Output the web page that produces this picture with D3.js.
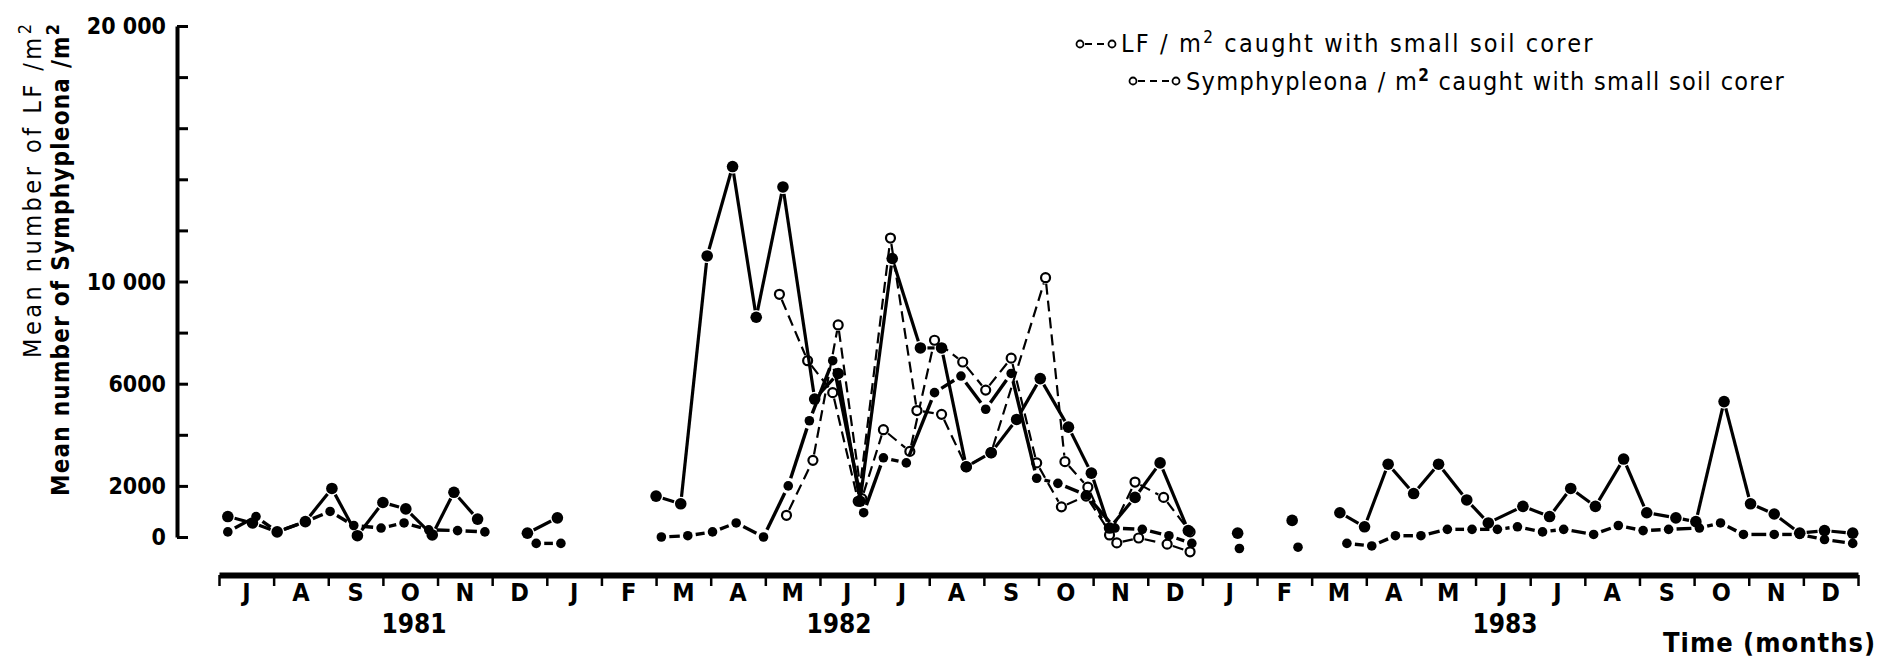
<!DOCTYPE html>
<html>
<head>
<meta charset="utf-8">
<script src="https://cdn.jsdelivr.net/npm/d3@7"></script>
<style>
  body { margin: 0; background: #fff; }
  svg { display: block; }
  text { fill: #000; }
</style>
</head>
<body>
<svg id="chart" width="1880" height="662"></svg>
<script>
// ---- Time axis: months from July 1981 to December 1983 ----
const monthLetters = ["J","A","S","O","N","D",
                      "J","F","M","A","M","J","J","A","S","O","N","D",
                      "J","F","M","A","M","J","J","A","S","O","N","D"];
const yearLabels = ["1981", "1982", "1983"];

// ---- Vertical axis ----
const yTickValues = [0, 2000, 4000, 6000, 8000, 10000, 12000, 14000, 16000, 18000, 20000];
const yLabelValues = [0, 2000, 6000, 10000, 20000];
const yLabelTexts = ["0", "2000", "6000", "10 000", "20 000"];

// ---- LF / m² (filled dots, solid line); null marks a break in the line ----
const lfDates = [
  "1981-07-06","1981-07-20","1981-08-03","1981-08-19","1981-09-03","1981-09-17","1981-10-01",
  "1981-10-14","1981-10-29","1981-11-10","1981-11-23", null,
  "1981-12-21","1982-01-07", null,
  "1982-03-01","1982-03-15","1982-03-30","1982-04-13","1982-04-26","1982-05-11","1982-05-29",
  "1982-06-11","1982-06-23","1982-07-11","1982-07-27","1982-08-08","1982-08-22","1982-09-05",
  "1982-09-19","1982-10-02","1982-10-18","1982-10-31","1982-11-10","1982-11-24","1982-12-08",
  "1982-12-24", null,
  "1983-01-21", null,
  "1983-02-19", null,
  "1983-03-17","1983-03-31","1983-04-13","1983-04-27","1983-05-11","1983-05-27","1983-06-08",
  "1983-06-27","1983-07-12","1983-07-24","1983-08-07","1983-08-23","1983-09-05","1983-09-21",
  "1983-10-02","1983-10-18","1983-11-02","1983-11-15","1983-11-29","1983-12-13","1983-12-29"
];
const lfValues = [
  800, 550, 200, 600, 1900, 50, 1350,
  1100, 80, 1750, 700, null,
  150, 750, null,
  1600, 1300, 11000, 14500, 8600, 13700, 5400,
  6400, 1400, 10900, 7400, 7400, 2750, 3300,
  4600, 6200, 4300, 2500, 350, 1550, 2900,
  250, null,
  150, null,
  650, null,
  950, 400, 2850, 1700, 2850, 1450, 550,
  1200, 800, 1900, 1200, 3050, 950, 750,
  600, 5300, 1300, 900, 150, 250, 150
];

// ---- Symphypleona / m² (filled dots, broken line) ----
const symDates = [
  "1981-07-06","1981-07-22","1981-08-03","1981-08-19","1981-09-02","1981-09-15","1981-09-30",
  "1981-10-13","1981-10-27","1981-11-12","1981-11-27", null,
  "1981-12-26","1982-01-09", null,
  "1982-03-04","1982-03-19","1982-04-02","1982-04-15","1982-04-30","1982-05-14","1982-05-26",
  "1982-06-08","1982-06-25","1982-07-06","1982-07-19","1982-08-04","1982-08-19","1982-09-02",
  "1982-09-16","1982-09-30","1982-10-12","1982-10-28","1982-11-13","1982-11-28","1982-12-13",
  "1982-12-26", null,
  "1983-01-22", null,
  "1983-02-22", null,
  "1983-03-21","1983-04-04","1983-04-17","1983-05-01","1983-05-16","1983-05-30","1983-06-13",
  "1983-06-24","1983-07-08","1983-07-20","1983-08-06","1983-08-20","1983-09-03","1983-09-17",
  "1983-10-04","1983-10-16","1983-10-29","1983-11-15","1983-11-29","1983-12-13","1983-12-29"
];
const symValues = [
  200, 800, 200, 600, 1000, 450, 350,
  550, 280, 250, 200, null,
  -250, -250, null,
  0, 50, 200, 550, 0, 2000, 4550,
  6900, 950, 3100, 2900, 5650, 6300, 5000,
  6400, 2300, 2100, 1650, 350, 300, 50,
  -250, null,
  -450, null,
  -400, null,
  -250, -350, 50, 50, 300, 300, 300,
  400, 200, 300, 100, 450, 250, 300,
  350, 550, 100, 100, 100, -100, -250
];

// ---- LF / m² caught with small soil corer (open circles, dashed) ----
const lfSmallDates = [
  "1982-05-09","1982-05-25","1982-06-08","1982-06-22","1982-07-10","1982-07-25","1982-08-08",
  "1982-08-22","1982-09-05","1982-10-05","1982-10-16","1982-10-29","1982-11-10","1982-11-24",
  "1982-12-10","1982-12-25"
];
const lfSmallValues = [
  9500, 6900, 5650, 1400, 11700, 4950, 4800,
  2750, 3300, 10150, 2950, 1950, 80, 2150,
  1550, 200
];

// ---- Symphypleona / m² caught with small soil corer (open circles, dashed) ----
const symSmallDates = [
  "1982-05-13","1982-05-28","1982-06-11","1982-06-24","1982-07-06","1982-07-21","1982-08-04",
  "1982-08-20","1982-09-02","1982-09-16","1982-09-30","1982-10-14","1982-10-28","1982-11-14",
  "1982-11-26","1982-12-12","1982-12-25"
];
const symSmallValues = [
  850, 3000, 8300, 1500, 4200, 3350, 7700,
  6850, 5750, 7000, 2900, 1180, 1600, -230,
  -40, -280, -580
];

// ------------------------------------------------------------------
const svg = d3.select("#chart");
const narrow = "'Liberation Sans Narrow', 'DejaVu Sans Condensed', sans-serif";
const condensed = "'DejaVu Sans Condensed', 'Liberation Sans Narrow', sans-serif";

// every month gets the same width on the drawn time axis
const x = d3.scaleLinear().domain([0, 30]).range([219, 1858]);
const y = d3.scaleLinear().domain([0, 20000]).range([537, 26]);

function monthPos(s) {
  const [yy, mm, dd] = s.split("-").map(Number);
  const days = new Date(yy, mm, 0).getDate();
  return (yy - 1981) * 12 + (mm - 1) - 6 + (dd - 1) / days;
}

// ---- vertical axis ----
const yAxis = d3.axisRight(y).tickValues(yTickValues).tickSize(11).tickSizeOuter(0).tickFormat("");
const yAxisG = svg.append("g").attr("transform", "translate(177,0)").call(yAxis);
yAxisG.select(".domain").attr("stroke", "#000").attr("stroke-width", 4);
yAxisG.selectAll(".tick line").attr("stroke", "#000").attr("stroke-width", 3);

svg.append("g").selectAll("text")
  .data(yLabelValues)
  .join("text")
  .attr("x", 166)
  .attr("y", d => y(d) + 8)
  .attr("text-anchor", "end")
  .attr("font-family", narrow)
  .attr("font-weight", "bold")
  .attr("font-size", 23)
  .text((d, i) => yLabelTexts[i]);

// axis titles, set vertically
function fitLength(sel, target) {
  const n = sel.text().length;
  const w = sel.node().getComputedTextLength();
  sel.attr("letter-spacing", (target - w) / Math.max(1, n - 1));
}
const t1 = svg.append("text")
  .attr("transform", "translate(41,358) rotate(-90)")
  .attr("font-family", condensed)
  .attr("font-size", 25);
t1.append("tspan").text("Mean number of LF /m");
t1.append("tspan").attr("dy", -10).attr("font-size", 18).text("2");
fitLength(t1, 334);

const t2 = svg.append("text")
  .attr("transform", "translate(69,496) rotate(-90)")
  .attr("font-family", condensed)
  .attr("font-weight", "bold")
  .attr("font-size", 24);
t2.append("tspan").text("Mean number of Symphypleona /m");
t2.append("tspan").attr("dy", -10).attr("font-size", 18).text("2");
fitLength(t2, 472);

// ---- time axis ----
const xAxis = d3.axisBottom(x).tickValues(d3.range(0, 31)).tickSize(11).tickSizeOuter(0).tickFormat("");
const xAxisG = svg.append("g").attr("transform", "translate(0,575)").call(xAxis);
xAxisG.select(".domain").attr("stroke", "#000").attr("stroke-width", 6);
xAxisG.selectAll(".tick line").attr("stroke", "#000").attr("stroke-width", 2.5);

svg.append("g").selectAll("text")
  .data(monthLetters)
  .join("text")
  .attr("x", (d, i) => x(i + 0.5))
  .attr("y", 601)
  .attr("text-anchor", "middle")
  .attr("font-family", narrow)
  .attr("font-weight", "bold")
  .attr("font-size", 25)
  .text(d => d);

const yearPos = [3.57, 11.35, 23.54];
svg.append("g").selectAll("text")
  .data(yearLabels)
  .join("text")
  .attr("x", (d, i) => x(yearPos[i]))
  .attr("y", 633)
  .attr("text-anchor", "middle")
  .attr("font-family", narrow)
  .attr("font-weight", "bold")
  .attr("font-size", 26)
  .text(d => d);

svg.append("text")
  .attr("x", 1876)
  .attr("y", 652)
  .attr("text-anchor", "end")
  .attr("font-family", narrow)
  .attr("font-weight", "bold")
  .attr("font-size", 27)
  .attr("letter-spacing", 1)
  .text("Time (months)");

// ---- series ----
function drawSeries(dates, values, st) {
  const pts = dates.map((d, i) => (d === null || values[i] === null) ? null
    : { px: x(monthPos(d)), py: y(values[i]) });
  const segs = [];
  for (let i = 0; i < pts.length - 1; i++) {
    const a = pts[i], b = pts[i + 1];
    if (!a || !b) continue;
    const dx = b.px - a.px, dy = b.py - a.py, len = Math.hypot(dx, dy);
    if (len <= 2 * st.gap + 2) continue;
    const ux = dx / len, uy = dy / len;
    segs.push({ x1: a.px + ux * st.gap, y1: a.py + uy * st.gap,
                x2: b.px - ux * st.gap, y2: b.py - uy * st.gap });
  }
  const g = svg.append("g");
  g.selectAll("line").data(segs).join("line")
    .attr("x1", d => d.x1).attr("y1", d => d.y1)
    .attr("x2", d => d.x2).attr("y2", d => d.y2)
    .attr("stroke", "#000")
    .attr("stroke-width", st.width)
    .attr("stroke-dasharray", st.dash || null)
    .attr("stroke-linecap", "butt");
  g.selectAll("circle").data(pts.filter(p => p)).join("circle")
    .attr("cx", d => d.px).attr("cy", d => d.py)
    .attr("r", st.r)
    .attr("fill", st.open ? "#fff" : "#000")
    .attr("stroke", "#000")
    .attr("stroke-width", st.open ? 2.2 : 0);
}

drawSeries(symSmallDates, symSmallValues, { r: 4.5, gap: 6, width: 2.2, dash: "11,6", open: true });
drawSeries(lfSmallDates, lfSmallValues, { r: 4.5, gap: 6, width: 2.2, dash: "11,6", open: true });
drawSeries(symDates, symValues, { r: 4.8, gap: 8, width: 3.4, open: false });
drawSeries(lfDates, lfValues, { r: 5.8, gap: 7, width: 3.2, open: false });

// ---- legend ----
function legendSymbol(x0, x1, yy) {
  const g = svg.append("g");
  g.append("line").attr("x1", x0 + 5).attr("x2", x1 - 5).attr("y1", yy).attr("y2", yy)
    .attr("stroke", "#000").attr("stroke-width", 2).attr("stroke-dasharray", "7,5");
  [x0, x1].forEach(cx => g.append("circle").attr("cx", cx).attr("cy", yy).attr("r", 3.5)
    .attr("fill", "#fff").attr("stroke", "#000").attr("stroke-width", 1.8));
}
legendSymbol(1080, 1112, 44);
legendSymbol(1133, 1176, 81);

const l1 = svg.append("text").attr("x", 1121).attr("y", 52)
  .attr("font-family", condensed).attr("font-size", 25);
l1.append("tspan").text("LF / m");
l1.append("tspan").attr("dy", -9).attr("font-size", 17).text("2");
l1.append("tspan").attr("dy", 9).text(" caught  with  small  soil  corer");
fitLength(l1, 480);

const l2 = svg.append("text").attr("x", 1186).attr("y", 90)
  .attr("font-family", condensed).attr("font-size", 25);
l2.append("tspan").text("Symphypleona / m");
l2.append("tspan").attr("dy", -9).attr("font-size", 17).attr("font-weight", "bold").text("2");
l2.append("tspan").attr("dy", 9).text(" caught  with  small  soil  corer");
fitLength(l2, 603);
</script>
</body>
</html>
